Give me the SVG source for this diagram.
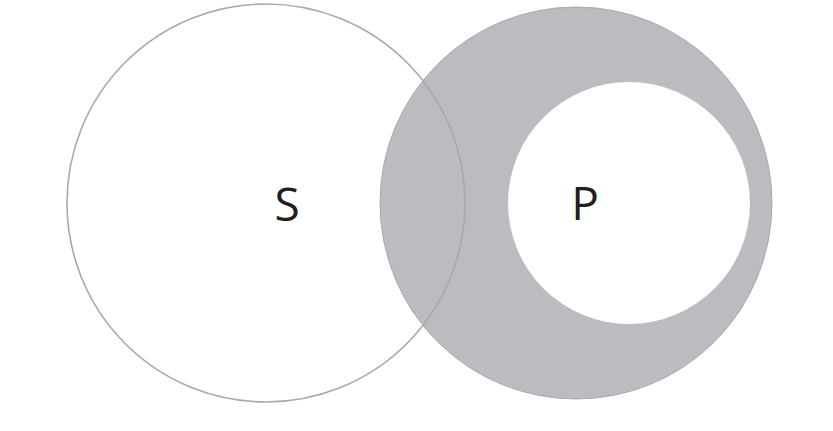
<svg xmlns="http://www.w3.org/2000/svg" width="833" height="431" viewBox="0 0 833 431">
<style>
.lbl{font-family:"Open Sans","Noto Sans",sans-serif;font-size:46px;fill:#231f20;text-anchor:middle}
</style>
<rect width="833" height="431" fill="#fff"/>
<g id="P">
<circle cx="576" cy="203" r="196" fill="#bbbcc0" stroke="#a9aaae" stroke-width="1"/>
<circle cx="629" cy="203" r="121" fill="#fff"/>
<text class="lbl" x="585" y="220">P</text>
</g>
<g id="S">
<circle cx="266" cy="203" r="199" fill="none" stroke="#a8a8a8" stroke-width="1.6"/>
<text class="lbl" x="287" y="221">S</text>
</g>
<g id="connectors"></g>
</svg>
